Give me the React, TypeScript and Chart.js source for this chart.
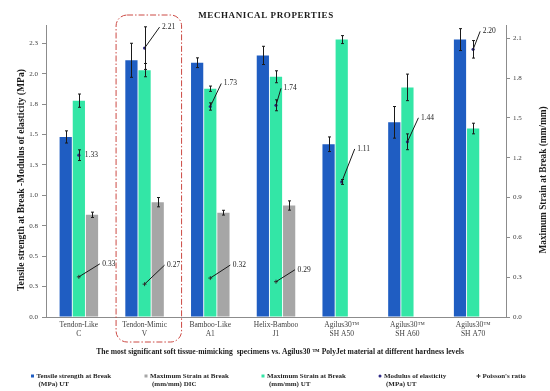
import React, { useEffect, useRef } from 'react';
import { Chart, registerables } from 'chart.js';

Chart.register(...registerables);

// ---------- data ----------
const categories: string[][] = [
  ['Tendon-Like', 'C'],
  ['Tendon-Mimic', 'V'],
  ['Bamboo-Like', 'A1'],
  ['Helix-Bamboo', 'J1'],
  ['Agilus30™', 'SH A50'],
  ['Agilus30™', 'SH A60'],
  ['Agilus30™', 'SH A70'],
];
const tensileStrength = [1.48, 2.11, 2.09, 2.15, 1.42, 1.6, 2.28];
const tensileStrengthErr = [0.05, 0.14, 0.04, 0.075, 0.06, 0.13, 0.09];
const strainUT = [1.63, 1.86, 1.72, 1.81, 2.09, 1.73, 1.42];
const strainUTErr = [0.05, 0.05, 0.02, 0.045, 0.03, 0.1, 0.04];
const strainDIC = [0.77, 0.865, 0.786, 0.84, null, null, null];
const strainDICErr = [0.02, 0.035, 0.018, 0.035, 0, 0, 0];
const modulus = [1.33, 2.21, 1.73, 1.74, 1.11, 1.44, 2.2];
const modulusErr = [0.044, 0.175, 0.03, 0.045, 0.02, 0.065, 0.072];
const poisson = [0.33, 0.27, 0.32, 0.29, null, null, null];
const leftTicks = [0, 0.25, 0.5, 0.75, 1, 1.25, 1.5, 1.75, 2, 2.25];
const rightTicks = [0, 0.3, 0.6, 0.9, 1.2, 1.5, 1.8, 2.1];

const titleText = 'MECHANICAL PROPERTIES';
const xTitle = 'The most significant soft tissue-mimicking  specimens vs. Agilus30 ™ PolyJet material at different hardness levels';
const yLeftTitle = 'Tensile strength at Break -Modulus of elasticity (MPa)';
const yRightTitle = 'Maximum Strain at Break (mm/mm)';

// ---------- style ----------
const BLUE = '#1F5DC2';
const GREEN = '#33E6A6';
const GRAY = '#A6A6A6';
const NAVY = '#2E2A86';
const AXIS = '#8C8C8C';
const TXT = '#404040';
const FONT = '"Liberation Serif", "Times New Roman", serif';

// label leader-line offsets (annotation layout)
const modulusLabelOffsets = [[6, 0], [15, -21], [11, -23], [5, -17], [13, -33], [11, -24], [7, -18]];
const poissonLabelOffsets = [[21, -13], [20, -19], [20, -13], [19, -12]];

const legendItems = [
  { lines: ['Tensile strength at Break', '(MPa) UT'], kind: 'rect', color: BLUE, x: 32.5 },
  { lines: ['Maximum Strain at Break', '(mm/mm) DIC'], kind: 'rect', color: GRAY, x: 146 },
  { lines: ['Maximum Strain at Break', '(mm/mm) UT'], kind: 'rect', color: GREEN, x: 263 },
  { lines: ['Modulus of elasticity', '(MPa) UT'], kind: 'dot', color: NAVY, x: 380 },
  { lines: ["Poisson's ratio"], kind: 'cross', color: '#333', x: 478.5 },
];

const overlay = {
  id: 'overlay',
  afterDatasetsDraw(chart: any) {
    const ctx = chart.ctx;
    const yL = chart.scales.y;
    const yR = chart.scales.y1;
    const drawErr = (px: number, v: number, e: number, sc: any) => {
      if (!e) return;
      const t = sc.getPixelForValue(v + e);
      const b = sc.getPixelForValue(v - e);
      ctx.beginPath();
      ctx.moveTo(px, t); ctx.lineTo(px, b);
      ctx.moveTo(px - 1.5, t); ctx.lineTo(px + 1.5, t);
      ctx.moveTo(px - 1.5, b); ctx.lineTo(px + 1.5, b);
      ctx.stroke();
    };
    ctx.save();
    ctx.strokeStyle = '#1a1a1a';
    ctx.lineWidth = 1;
    const sets: [number, number[], any][] = [[0, tensileStrengthErr, yL], [1, strainUTErr, yR], [2, strainDICErr, yR], [3, modulusErr, yL]];
    sets.forEach(([di, errs, sc]) => {
      const meta = chart.getDatasetMeta(di);
      const data = chart.data.datasets[di].data;
      meta.data.forEach((el: any, i: number) => {
        const v = data[i];
        if (v == null) return;
        drawErr(Math.round(el.x) + 0.5, v, errs[i], sc);
      });
    });
    // value labels with leader lines
    ctx.font = `7.5px ${FONT}`;
    ctx.fillStyle = '#222';
    ctx.textBaseline = 'middle';
    ctx.textAlign = 'left';
    const labelSet = (di: number, offs: number[][]) => {
      const meta = chart.getDatasetMeta(di);
      const data = chart.data.datasets[di].data;
      meta.data.forEach((el: any, i: number) => {
        const v = data[i];
        if (v == null || !offs[i]) return;
        const [dx, dy] = offs[i];
        const ex = el.x + dx, ey = el.y + dy;
        if (Math.abs(dy) > 2) {
          ctx.beginPath();
          ctx.moveTo(el.x, el.y); ctx.lineTo(ex, ey);
          ctx.stroke();
          ctx.fillText(v.toFixed(2), ex + 2.5, ey);
        } else {
          ctx.fillText(v.toFixed(2), ex, ey);
        }
      });
    };
    labelSet(3, modulusLabelOffsets);
    labelSet(4, poissonLabelOffsets);
    ctx.restore();
  },
  afterDraw(chart: any) {
    const ctx = chart.ctx;
    const area = chart.chartArea;
    const xs = chart.scales.x;
    ctx.save();
    // title
    ctx.fillStyle = '#1a1a1a';
    ctx.font = `bold 9px ${FONT}`;
    ctx.textAlign = 'center';
    ctx.textBaseline = 'middle';
    (ctx as any).letterSpacing = '0.6px';
    ctx.fillText(titleText, 266, 16);
    (ctx as any).letterSpacing = '0px';
    // x title
    ctx.font = `bold 7.6px ${FONT}`;
    ctx.fillText(xTitle, 280, 352);
    // y titles
    ctx.font = `bold 9.6px ${FONT}`;
    ctx.save();
    ctx.translate(22, (area.top + area.bottom) / 2 + 9);
    ctx.rotate(-Math.PI / 2);
    ctx.fillText(yLeftTitle, 0, 0);
    ctx.restore();
    ctx.font = `bold 9.3px ${FONT}`;
    ctx.save();
    ctx.translate(544, (area.top + area.bottom) / 2 + 9);
    ctx.rotate(-Math.PI / 2);
    ctx.fillText(yRightTitle, 0, 0);
    ctx.restore();
    // highlight box around Tendon-Mimic
    const cx = xs.getPixelForValue(1);
    ctx.strokeStyle = '#CC4A44';
    ctx.lineWidth = 1;
    ctx.setLineDash([6, 2, 1.5, 2]);
    ctx.beginPath();
    (ctx as any).roundRect(cx - 28.5, 15, 65.5, 327, 11);
    ctx.stroke();
    ctx.setLineDash([]);
    // legend
    ctx.font = `bold 7px ${FONT}`;
    ctx.textAlign = 'left';
    legendItems.forEach((it) => {
      const my = 376;
      ctx.fillStyle = it.color;
      ctx.strokeStyle = it.color;
      if (it.kind === 'rect') {
        ctx.fillRect(it.x - 1.5, my - 1.5, 3, 3);
      } else if (it.kind === 'dot') {
        ctx.beginPath();
        ctx.arc(it.x, my, 1.5, 0, Math.PI * 2);
        ctx.fill();
      } else {
        ctx.beginPath();
        ctx.moveTo(it.x - 2, my); ctx.lineTo(it.x + 2, my);
        ctx.moveTo(it.x, my - 2); ctx.lineTo(it.x, my + 2);
        ctx.stroke();
      }
      ctx.fillStyle = '#262626';
      it.lines.forEach((ln, li) => {
        ctx.fillText(ln, it.x + 4 + (li > 0 ? 2 : 0), my + li * 8.6);
      });
    });
    ctx.restore();
  },
};

export default function App() {
  const ref = useRef<HTMLCanvasElement | null>(null);
  useEffect(() => {
    document.body.style.margin = '0';
    const canvas = ref.current!;
    Chart.defaults.font.family = FONT;
    const chart = new Chart(canvas, {
      type: 'bar',
      data: {
        labels: categories as any,
        datasets: [
          { label: 'Tensile strength at Break (MPa) UT', data: tensileStrength, backgroundColor: BLUE, yAxisID: 'y', order: 1 },
          { label: 'Maximum Strain at Break (mm/mm) UT', data: strainUT, backgroundColor: GREEN, yAxisID: 'y1', order: 1 },
          { label: 'Maximum Strain at Break (mm/mm) DIC', data: strainDIC as any, backgroundColor: GRAY, yAxisID: 'y1', order: 1 },
          {
            type: 'line', label: 'Modulus of elasticity (MPa) UT', data: modulus, yAxisID: 'y', showLine: false,
            pointRadius: 1.6, pointBackgroundColor: NAVY, pointBorderColor: NAVY, pointBorderWidth: 0, order: 0,
          } as any,
          {
            type: 'line', label: "Poisson's ratio", data: poisson, yAxisID: 'y', showLine: false,
            pointStyle: 'cross', pointRadius: 2, pointBorderColor: '#333', pointBorderWidth: 1, order: 0,
          } as any,
        ],
      },
      options: {
        responsive: false,
        animation: false,
        events: [],
        layout: { padding: { top: 25, left: 0, right: 0, bottom: 0 } },
        datasets: { bar: { categoryPercentage: 0.6, barPercentage: 0.93 } } as any,
        plugins: { legend: { display: false }, tooltip: { enabled: false }, title: { display: false } },
        scales: {
          x: {
            grid: { display: true, drawOnChartArea: false, drawTicks: false, color: AXIS },
            border: { display: true, color: AXIS },
            ticks: { color: TXT, font: { size: 7.5, lineHeight: 1.2 }, padding: 4, autoSkip: false, maxRotation: 0 },
            afterFit: (s: any) => { s.height = 74; },
          } as any,
          y: {
            position: 'left', min: 0, max: 2.4,
            grid: { display: true, drawOnChartArea: false, drawTicks: true, tickLength: 4, color: AXIS },
            border: { display: true, color: AXIS },
            ticks: { color: TXT, font: { size: 7 }, padding: 4, callback: (v: any) => Number(v).toFixed(1) },
            afterBuildTicks: (s: any) => { s.ticks = leftTicks.map((v) => ({ value: v })); },
            afterFit: (s: any) => { s.width = 46; },
          } as any,
          y1: {
            position: 'right', min: 0, max: 2.2,
            grid: { display: true, drawOnChartArea: false, drawTicks: true, tickLength: 4, color: AXIS },
            border: { display: true, color: AXIS },
            ticks: { color: TXT, font: { size: 7 }, padding: 3, callback: (v: any) => Number(v).toFixed(1) },
            afterBuildTicks: (s: any) => { s.ticks = rightTicks.map((v) => ({ value: v })); },
            afterFit: (s: any) => { s.width = 44; },
          } as any,
        },
      },
      plugins: [overlay],
    });
    return () => chart.destroy();
  }, []);
  return (
    <div style={{ width: 550, height: 391, background: '#fff' }}>
      <canvas ref={ref} width={550} height={391} style={{ display: 'block', width: 550, height: 391 }} />
    </div>
  );
}
